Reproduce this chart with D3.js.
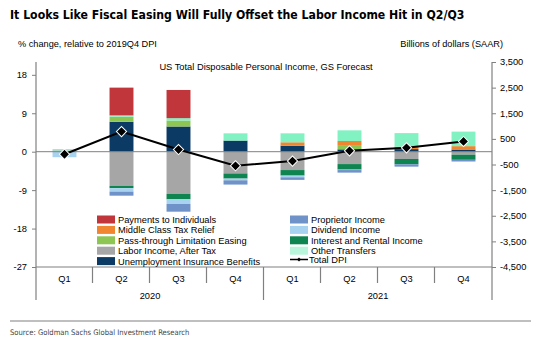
<!DOCTYPE html>
<html>
<head>
<meta charset="utf-8">
<script src="https://cdn.jsdelivr.net/npm/d3@7"></script>
<style>
	body { margin: 0; background: #fff; }
	svg text { font-family: "Liberation Sans", Arial, sans-serif; fill: #000; }
	.narrow { font-family: "Liberation Sans Narrow", "DejaVu Sans Condensed", sans-serif !important; }
</style>
</head>
<body>
<div id="chart"></div>
<script>
// Data (% change, relative to 2019Q4 DPI)

var quarters = ['Q1', 'Q2', 'Q3', 'Q4', 'Q1', 'Q2', 'Q3', 'Q4'];
var years = ['2020', '2021'];

var laborIncome   = [0.3, -8.0, -9.9, -5.1, -4.3, -2.9, -1.7, -0.7];
var unemployment  = [0, 7.0, 5.9, 2.6, 1.4, 0.55, 0.6, 0.5];
var passThrough   = [0, 1.2, 1.4, 0, 0, 1.0, 0, 0];
var middleClass   = [0, 0, 0, 0, 0.8, 0.95, 0.55, 0.8];
var otherTransfer = [0.3, 0.3, 0.55, 1.7, 2.1, 2.5, 3.2, 3.4];
var payments      = [0, 6.5, 6.6, 0, 0, 0, 0, 0];
var interestRent  = [0, -0.55, -1.25, -1.2, -1.3, -1.3, -1.25, -1.2];
var dividend      = [-1.3, -0.8, -1.1, -0.4, -0.4, -0.1, 0, 0];
var proprietor    = [0, -0.95, -1.8, -1.0, -0.6, -0.6, -0.55, -0.4];
var totalDPI      = [-0.6, 4.7, 0.5, -3.3, -2.2, 0.2, 0.9, 2.4];

var leftTicks = [-27, -18, -9, 0, 9, 18];
var rightTicks = [-4500, -3500, -2500, -1500, -500, 500, 1500, 2500, 3500];

// Config

var width = 542, height = 342;
var plot = { left: 36, right: 492, top: 62, bottom: 267 };
var axisGrey = '#808080';

// stacking order: nearest to zero first
var series = [
	{ key: 'labor', name: 'Labor Income, After Tax', values: laborIncome, color: '#a6a6a6' },
	{ key: 'ui', name: 'Unemployment Insurance Benefits', values: unemployment, color: '#0b3a64' },
	{ key: 'pass', name: 'Pass-through Limitation Easing', values: passThrough, color: '#8dc653' },
	{ key: 'middle', name: 'Middle Class Tax Relief', values: middleClass, color: '#f0862f' },
	{ key: 'other', name: 'Other Transfers', values: otherTransfer, color: '#82f2c2' },
	{ key: 'payments', name: 'Payments to Individuals', values: payments, color: '#c1363a' },
	{ key: 'interest', name: 'Interest and Rental Income', values: interestRent, color: '#0e8550' },
	{ key: 'dividend', name: 'Dividend Income', values: dividend, color: '#a8d3f0' },
	{ key: 'proprietor', name: 'Proprietor Income', values: proprietor, color: '#6f93c8' }
];
var seriesByKey = new Map(series.map(s => [s.key, s]));

var legendLeft = ['payments', 'middle', 'pass', 'labor', 'ui'];
var legendRight = ['proprietor', 'dividend', 'interest', 'other'];

// Helpers

var fmt = d => d3.format(',')(d).replace('\u2212', '-');

// Setup

var svg = d3.select('#chart').append('svg')
	.attr('width', width)
	.attr('height', height);

var x = d3.scaleBand()
	.domain(d3.range(quarters.length))
	.range([plot.left, plot.right])
	.paddingInner(0.58)
	.paddingOuter(0.29);

var yLeft = d3.scaleLinear().domain([-27, 21]).range([plot.bottom, plot.top]);
var yRight = d3.scaleLinear().domain([-4500, 3500]).range([plot.bottom, plot.top]);

var rows = quarters.map((q, i) => {
	let row = { i };
	series.forEach(s => row[s.key] = s.values[i]);
	return row;
});

var stacked = d3.stack()
	.keys(series.map(s => s.key))
	.offset(d3.stackOffsetDiverging)(rows);

// Titles

svg.append('text').attr('class', 'narrow')
	.attr('x', 10).attr('y', 19)
	.attr('font-size', 12.2).attr('font-weight', 'bold')
	.text('It Looks Like Fiscal Easing Will Fully Offset the Labor Income Hit in Q2/Q3');

svg.append('text')
	.attr('x', 18).attr('y', 47).attr('font-size', 9.2)
	.text('% change, relative to 2019Q4 DPI');

svg.append('text')
	.attr('x', 503).attr('y', 47).attr('font-size', 9.2)
	.attr('text-anchor', 'end')
	.text('Billions of dollars (SAAR)');

svg.append('text')
	.attr('x', 266).attr('y', 70).attr('font-size', 9.3)
	.attr('text-anchor', 'middle')
	.text('US Total Disposable Personal Income, GS Forecast');

// Bars

svg.append('g').selectAll('g')
	.data(stacked)
	.join('g')
		.attr('fill', d => seriesByKey.get(d.key).color)
	.selectAll('rect')
	.data(d => d)
	.join('rect')
		.attr('x', d => x(d.data.i))
		.attr('width', x.bandwidth())
		.attr('y', d => yLeft(Math.max(d[0], d[1])))
		.attr('height', d => Math.abs(yLeft(d[0]) - yLeft(d[1])));

// Zero line
svg.append('line')
	.attr('x1', plot.left).attr('x2', plot.right)
	.attr('y1', yLeft(0)).attr('y2', yLeft(0))
	.attr('stroke', axisGrey).attr('stroke-width', 1);

// Total DPI line
var line = d3.line()
	.x((d, i) => x(i) + x.bandwidth() / 2)
	.y(d => yLeft(d));

svg.append('path')
	.datum(totalDPI)
	.attr('d', line)
	.attr('fill', 'none')
	.attr('stroke', '#000')
	.attr('stroke-width', 2);

var diamond = d3.symbol(d3.symbolSquare, 52);
svg.append('g').selectAll('path')
	.data(totalDPI)
	.join('path')
		.attr('d', diamond)
		.attr('transform', (d, i) => `translate(${x(i) + x.bandwidth() / 2},${yLeft(d)}) rotate(45)`)
		.attr('fill', '#000')
		.attr('stroke', '#fff')
		.attr('stroke-width', 1);

// Axes

var leftAxis = svg.append('g')
	.attr('transform', `translate(${plot.left},0)`)
	.call(d3.axisLeft(yLeft).tickValues(leftTicks).tickFormat(fmt).tickSize(4).tickPadding(5));

var rightAxis = svg.append('g')
	.attr('transform', `translate(${plot.right},0)`)
	.call(d3.axisRight(yRight).tickValues(rightTicks).tickFormat(fmt).tickSize(4).tickPadding(4));

[leftAxis, rightAxis].forEach(ax => {
	ax.select('.domain').remove();
	ax.selectAll('line').attr('stroke', axisGrey);
	ax.selectAll('text').attr('font-size', 9.3).attr('font-family', '"Liberation Sans", Arial, sans-serif');
});

// vertical frame lines extend below into the category labels
[plot.left, plot.right].forEach(px => {
	svg.append('line')
		.attr('x1', px).attr('x2', px)
		.attr('y1', plot.top).attr('y2', 300)
		.attr('stroke', axisGrey).attr('stroke-width', 1.2);
});

// category axis
svg.append('line')
	.attr('x1', plot.left).attr('x2', plot.right)
	.attr('y1', plot.bottom).attr('y2', plot.bottom)
	.attr('stroke', axisGrey).attr('stroke-width', 1.2);

var step = x.step();
d3.range(1, quarters.length).forEach(i => {
	let sx = x(i) - x.paddingInner() * step / 2 - 0.5;
	let isYear = i % 4 === 0;
	svg.append('line')
		.attr('x1', sx).attr('x2', sx)
		.attr('y1', plot.bottom).attr('y2', isYear ? 300 : 283)
		.attr('stroke', axisGrey).attr('stroke-width', 1.2);
});

svg.append('g').selectAll('text')
	.data(quarters)
	.join('text')
		.attr('x', (d, i) => x(i) + x.bandwidth() / 2)
		.attr('y', 282)
		.attr('text-anchor', 'middle')
		.attr('font-size', 9.3)
		.text(d => d);

svg.append('g').selectAll('text')
	.data(years)
	.join('text')
		.attr('x', (d, i) => (x(i * 4) + x(i * 4 + 3) + x.bandwidth()) / 2)
		.attr('y', 299)
		.attr('text-anchor', 'middle')
		.attr('font-size', 9.3)
		.text(d => d);

// Legend

function drawLegendColumn(keys, lx) {
	let g = svg.append('g');
	keys.forEach((k, i) => {
		let s = seriesByKey.get(k);
		let ly = 219.5 + i * 10.4;
		g.append('rect')
			.attr('x', lx).attr('y', ly - 4)
			.attr('width', 18).attr('height', 8)
			.attr('fill', k === 'other' ? '#b8f5da' : s.color);
		g.append('text')
			.attr('x', lx + 21).attr('y', ly + 3.5)
			.attr('font-size', 9.3)
			.text(s.name);
	});
}
drawLegendColumn(legendLeft, 97);
drawLegendColumn(legendRight, 290);

var dpiY = 259.5;
svg.append('line')
	.attr('x1', 290).attr('x2', 308)
	.attr('y1', dpiY).attr('y2', dpiY)
	.attr('stroke', '#000').attr('stroke-width', 1.5);
svg.append('path')
	.attr('d', d3.symbol(d3.symbolSquare, 8))
	.attr('transform', `translate(299,${dpiY}) rotate(45)`)
	.attr('fill', '#000');
svg.append('text')
	.attr('x', 309).attr('y', dpiY + 3.5)
	.attr('font-size', 9.3)
	.text('Total DPI');

// Footer

svg.append('line')
	.attr('x1', 10).attr('x2', 531)
	.attr('y1', 321).attr('y2', 321)
	.attr('stroke', '#aaa').attr('stroke-width', 1.5);

svg.append('text').attr('class', 'narrow')
	.attr('x', 10).attr('y', 335)
	.attr('font-size', 7.6)
	.style('fill', '#444')
	.text('Source: Goldman Sachs Global Investment Research');
</script>
</body>
</html>
